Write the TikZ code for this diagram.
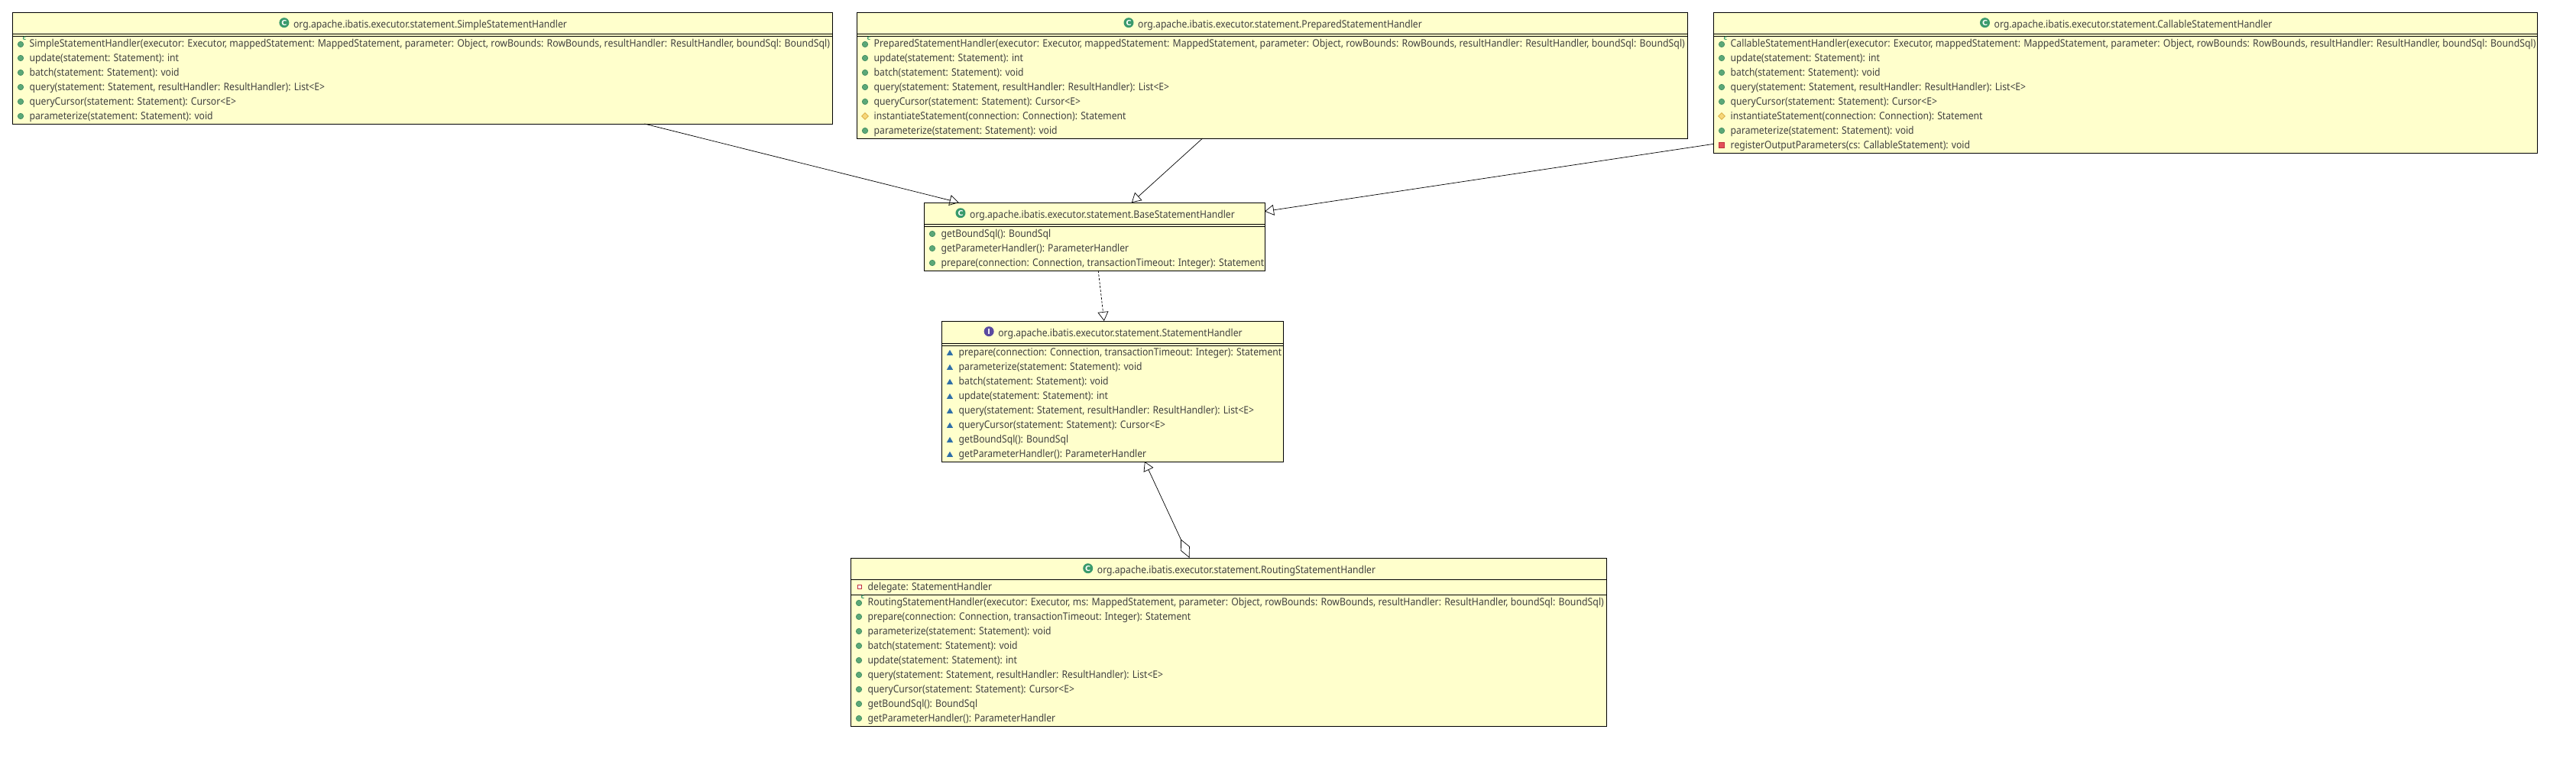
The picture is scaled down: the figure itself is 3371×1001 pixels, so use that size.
\documentclass[tikz,border=0pt]{standalone}
\usepackage{fontspec}
\setmainfont{Noto Sans}
\newfontfamily\memberfont[FakeStretch=0.9]{Noto Sans}
\newfontfamily\ctorfont[FakeStretch=0.91]{Noto Sans}
\newfontfamily\iconfont{DejaVu Sans}
\usetikzlibrary{arrows.meta,shapes.geometric}
\definecolor{notefill}{HTML}{FFFFCC}
\definecolor{pubgreen}{HTML}{5BA878}
\definecolor{pubedge}{HTML}{3F8A5E}
\definecolor{headgreen}{HTML}{3A9A6C}
\definecolor{headpurple}{HTML}{5A4AA0}
\definecolor{protyellow}{HTML}{F6D77A}
\definecolor{protedge}{HTML}{D9A93A}
\definecolor{privred}{HTML}{E2505A}
\definecolor{privedge}{HTML}{C0303C}
\definecolor{pkgblue}{HTML}{2F6FA8}
\definecolor{inktext}{HTML}{404040}
\tikzset{
	classbox/.style={draw=black, line width=0.9pt, fill=notefill, inner sep=0, outer sep=0},
	rulebar/.style={line width=0.9pt, color=black},
	titletext/.style={anchor=base, inner sep=0, text=inktext, font=\memberfont\fontsize{13.5}{16}\selectfont},
	membertext/.style={anchor=base west, inner sep=0, text=inktext, font=\memberfont\fontsize{13.5}{16}\selectfont},
	ctortext/.style={membertext, font=\ctorfont\fontsize{13.5}{16}\selectfont},
	pubicon/.style={circle, draw=pubedge, fill=pubgreen, line width=0.6pt, minimum size=7.5pt, inner sep=0},
	proticon/.style={diamond, draw=protedge, fill=protyellow, line width=0.6pt, minimum size=9pt, inner sep=0},
	privicon/.style={rectangle, draw=privedge, fill=privred, line width=0.6pt, minimum size=7pt, inner sep=0},
	fieldicon/.style={rectangle, draw=privedge, fill=white, line width=1.2pt, minimum size=5pt, inner sep=0},
	pkgicon/.style={regular polygon, regular polygon sides=3, fill=pkgblue, minimum size=9.5pt, inner sep=0},
	cmark/.style={inner sep=0, text=headgreen, font=\iconfont\bfseries\fontsize{8}{8}\selectfont},
	headicon/.style={circle, minimum size=13pt, inner sep=0, text=white, font=\iconfont\bfseries\fontsize{9.5}{10}\selectfont},
	extends/.style={line width=0.7pt, -{Triangle[open, length=12pt, width=14pt]}},
	realizes/.style={extends, dash pattern=on 3pt off 2pt},
	delegates/.style={extends, {Diamond[open, length=27pt, width=13pt]}-{Triangle[open, length=12pt, width=14pt]}}
}
\def\pubrow#1(#2,#3)#4{\node[pubicon] (#1-icon) at (#2,#3) {}; \node[membertext] (#1) at (#2+11.5,#3+4.6) {#4};}
\def\ctorrow#1(#2,#3)#4{\node[pubicon] (#1-icon) at (#2,#3+1) {}; \node[cmark] (#1-c) at (#2+5,#3-7) {c}; \node[ctortext] (#1) at (#2+11.5,#3+4.6) {#4};}
\def\protrow#1(#2,#3)#4{\node[proticon] (#1-icon) at (#2,#3) {}; \node[membertext] (#1) at (#2+11.5,#3+4.6) {#4};}
\def\privrow#1(#2,#3)#4{\node[privicon] (#1-icon) at (#2,#3) {}; \node[membertext] (#1) at (#2+11.5,#3+4.6) {#4};}
\def\pkgrow#1(#2,#3)#4{\node[pkgicon] (#1-icon) at (#2,#3+1.5) {}; \node[membertext] (#1) at (#2+11.5,#3+4.6) {#4};}
\def\headline#1(#2,#3)[#4]#5#6{\node[titletext] (#1) at (#2+10.5,#3+5) {#6}; \node[headicon, fill=#4] (#1-icon) at ([xshift=-12pt, yshift=6.3pt]#1.base west) {#5};}

\begin{document}
\begin{tikzpicture}[x=1pt, y=-1pt]
	%%%%% START %%%%%
	\useasboundingbox (0, 0) rectangle (3371, 1001);

	\node[classbox, minimum width=1073pt, minimum height=146pt] (simple) at (552.5, 89) {};
	\node[classbox, minimum width=1087pt, minimum height=165pt] (prepared) at (1664.5, 98.5) {};
	\node[classbox, minimum width=1078pt, minimum height=184pt] (callable) at (2781, 108) {};
	\node[classbox, minimum width=446pt, minimum height=89pt] (base) at (1432, 309.5) {};
	\node[classbox, minimum width=447pt, minimum height=184pt] (handler) at (1455.5, 512) {};
	\node[classbox, minimum width=989pt, minimum height=220pt] (routing) at (1607.5, 840) {};

	\draw[extends] (simple) -- (base);
	\draw[extends] (prepared) -- (base);
	\draw[extends] (callable) -- (base);
	\draw[realizes] (base) -- (handler);
	\draw[delegates] (routing) -- (handler);

	% simple
	\headline{simple-title}(552.5, 31)[headgreen]{C}{org.apache.ibatis.executor.statement.SimpleStatementHandler}
	\draw[rulebar] (16, 44) -- (1089, 44);
	\draw[rulebar] (16, 47) -- (1089, 47);
	\ctorrow{simple-m1}(27, 57){SimpleStatementHandler(executor: Executor, mappedStatement: MappedStatement, parameter: Object, rowBounds: RowBounds, resultHandler: ResultHandler, boundSql: BoundSql)}
	\pubrow{simple-m2}(27, 76){update(statement: Statement): int}
	\pubrow{simple-m3}(27, 95){batch(statement: Statement): void}
	\pubrow{simple-m4}(27, 114){query(statement: Statement, resultHandler: ResultHandler): List<E>}
	\pubrow{simple-m5}(27, 133){queryCursor(statement: Statement): Cursor<E>}
	\pubrow{simple-m6}(27, 152){parameterize(statement: Statement): void}

	% prepared
	\headline{prepared-title}(1664.5, 31)[headgreen]{C}{org.apache.ibatis.executor.statement.PreparedStatementHandler}
	\draw[rulebar] (1121, 44) -- (2208, 44);
	\draw[rulebar] (1121, 47) -- (2208, 47);
	\ctorrow{prepared-m1}(1132, 57){PreparedStatementHandler(executor: Executor, mappedStatement: MappedStatement, parameter: Object, rowBounds: RowBounds, resultHandler: ResultHandler, boundSql: BoundSql)}
	\pubrow{prepared-m2}(1132, 76){update(statement: Statement): int}
	\pubrow{prepared-m3}(1132, 95){batch(statement: Statement): void}
	\pubrow{prepared-m4}(1132, 114){query(statement: Statement, resultHandler: ResultHandler): List<E>}
	\pubrow{prepared-m5}(1132, 133){queryCursor(statement: Statement): Cursor<E>}
	\protrow{prepared-m6}(1132, 152){instantiateStatement(connection: Connection): Statement}
	\pubrow{prepared-m7}(1132, 171){parameterize(statement: Statement): void}

	% callable
	\headline{callable-title}(2781, 31)[headgreen]{C}{org.apache.ibatis.executor.statement.CallableStatementHandler}
	\draw[rulebar] (2242, 44) -- (3320, 44);
	\draw[rulebar] (2242, 47) -- (3320, 47);
	\ctorrow{callable-m1}(2253, 57){CallableStatementHandler(executor: Executor, mappedStatement: MappedStatement, parameter: Object, rowBounds: RowBounds, resultHandler: ResultHandler, boundSql: BoundSql)}
	\pubrow{callable-m2}(2253, 76){update(statement: Statement): int}
	\pubrow{callable-m3}(2253, 95){batch(statement: Statement): void}
	\pubrow{callable-m4}(2253, 114){query(statement: Statement, resultHandler: ResultHandler): List<E>}
	\pubrow{callable-m5}(2253, 133){queryCursor(statement: Statement): Cursor<E>}
	\protrow{callable-m6}(2253, 152){instantiateStatement(connection: Connection): Statement}
	\pubrow{callable-m7}(2253, 171){parameterize(statement: Statement): void}
	\privrow{callable-m8}(2253, 190){registerOutputParameters(cs: CallableStatement): void}

	% base
	\headline{base-title}(1432, 280)[headgreen]{C}{org.apache.ibatis.executor.statement.BaseStatementHandler}
	\draw[rulebar] (1209, 293) -- (1655, 293);
	\draw[rulebar] (1209, 296) -- (1655, 296);
	\pubrow{base-m1}(1220, 306){getBoundSql(): BoundSql}
	\pubrow{base-m2}(1220, 325){getParameterHandler(): ParameterHandler}
	\pubrow{base-m3}(1220, 344){prepare(connection: Connection, transactionTimeout: Integer): Statement}

	% handler
	\headline{handler-title}(1455.5, 435)[headpurple]{I}{org.apache.ibatis.executor.statement.StatementHandler}
	\draw[rulebar] (1232, 449) -- (1679, 449);
	\draw[rulebar] (1232, 452) -- (1679, 452);
	\pkgrow{handler-m1}(1243, 461){prepare(connection: Connection, transactionTimeout: Integer): Statement}
	\pkgrow{handler-m2}(1243, 480){parameterize(statement: Statement): void}
	\pkgrow{handler-m3}(1243, 499){batch(statement: Statement): void}
	\pkgrow{handler-m4}(1243, 518){update(statement: Statement): int}
	\pkgrow{handler-m5}(1243, 537){query(statement: Statement, resultHandler: ResultHandler): List<E>}
	\pkgrow{handler-m6}(1243, 556){queryCursor(statement: Statement): Cursor<E>}
	\pkgrow{handler-m7}(1243, 575){getBoundSql(): BoundSql}
	\pkgrow{handler-m8}(1243, 594){getParameterHandler(): ParameterHandler}

	% routing
	\headline{routing-title}(1607.5, 745)[headgreen]{C}{org.apache.ibatis.executor.statement.RoutingStatementHandler}
	\draw[rulebar] (1113, 758) -- (2102, 758);
	\draw[rulebar] (1113, 778) -- (2102, 778);
	\node[fieldicon] (routing-f1-icon) at (1125, 768) {};
	\node[membertext] (routing-f1) at (1135.5, 772.6) {delegate: StatementHandler};
	\ctorrow{routing-m1}(1124, 788){RoutingStatementHandler(executor: Executor, ms: MappedStatement, parameter: Object, rowBounds: RowBounds, resultHandler: ResultHandler, boundSql: BoundSql)}
	\pubrow{routing-m2}(1124, 807){prepare(connection: Connection, transactionTimeout: Integer): Statement}
	\pubrow{routing-m3}(1124, 826){parameterize(statement: Statement): void}
	\pubrow{routing-m4}(1124, 845){batch(statement: Statement): void}
	\pubrow{routing-m5}(1124, 864){update(statement: Statement): int}
	\pubrow{routing-m6}(1124, 883){query(statement: Statement, resultHandler: ResultHandler): List<E>}
	\pubrow{routing-m7}(1124, 902){queryCursor(statement: Statement): Cursor<E>}
	\pubrow{routing-m8}(1124, 921){getBoundSql(): BoundSql}
	\pubrow{routing-m9}(1124, 940){getParameterHandler(): ParameterHandler}

	%%%%% END %%%%%
\end{tikzpicture}
\end{document}
